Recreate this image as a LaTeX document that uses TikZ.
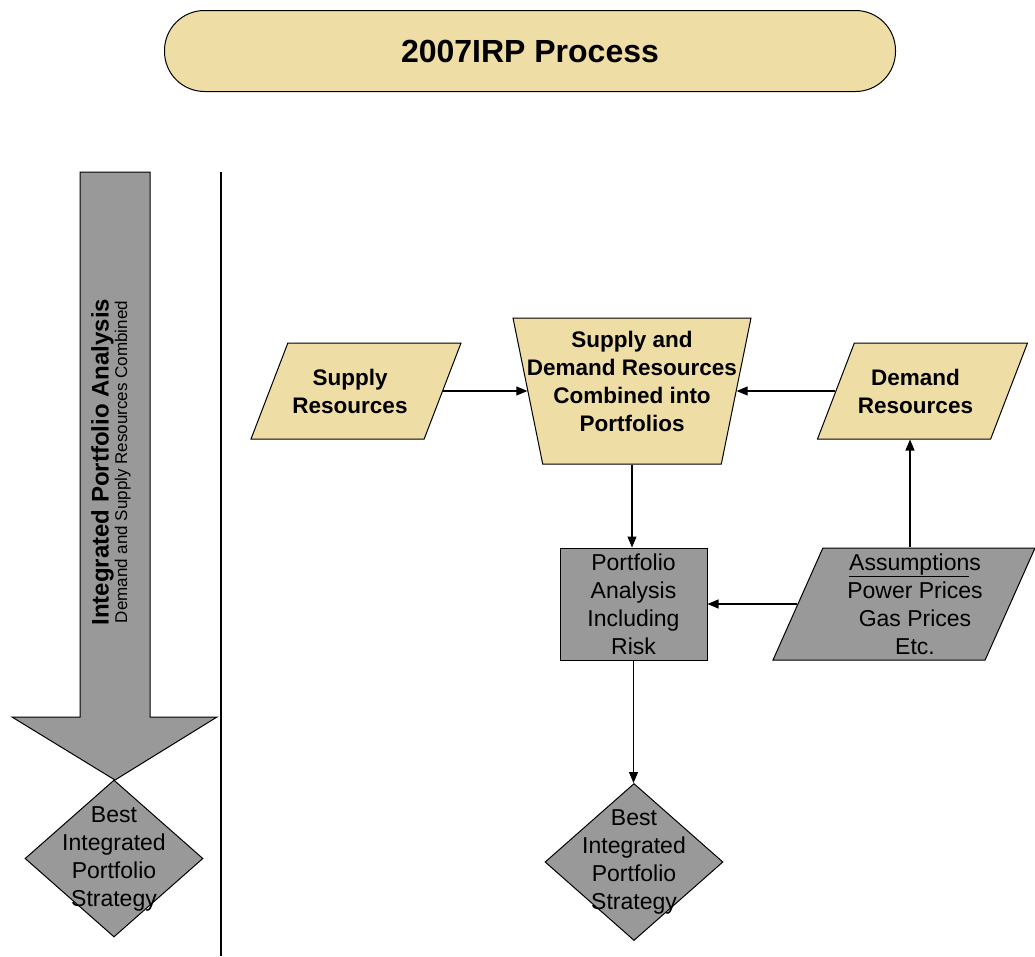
\documentclass[tikz,border=0pt]{standalone}
\usepackage{fontspec}
\setmainfont{Liberation Sans}
\usetikzlibrary{arrows.meta,shapes.geometric,positioning}
\definecolor{tanfill}{RGB}{239,221,166}
\definecolor{boxgray}{RGB}{153,153,153}
\tikzset{
    %Define standard arrow tip
    >={Triangle[length=11pt,width=9pt]},
    %Define style for boxes
    titlebox/.style={
           rectangle,
           rounded corners=40pt,
           draw=black, line width=1pt,
           fill=tanfill,
           minimum width=731pt,
           minimum height=81pt,
           font=\fontsize{32}{38}\selectfont\bfseries,
           },
    inputbox/.style={
           trapezium,
           trapezium left angle=69,
           trapezium right angle=111,
           trapezium stretches body,
           draw=black, line width=1pt,
           fill=tanfill,
           inner sep=0pt,
           text height=96pt,
           text depth=0pt,
           minimum width=210pt,
           },
    mergebox/.style={
           trapezium,
           trapezium left angle=101.5,
           trapezium right angle=101.5,
           trapezium stretches body,
           draw=black, line width=1pt,
           fill=tanfill,
           inner sep=0pt,
           text height=146pt,
           text depth=0pt,
           minimum width=238pt,
           },
    assumebox/.style={
           trapezium,
           trapezium left angle=66,
           trapezium right angle=114,
           trapezium stretches body,
           draw=black, line width=1pt,
           fill=boxgray,
           inner sep=0pt,
           text height=112pt,
           text depth=0pt,
           minimum width=262pt,
           },
    stepbox/.style={
           rectangle,
           draw=black, line width=1pt,
           fill=boxgray,
           minimum width=147pt,
           minimum height=112pt,
           align=center,
           font=\fontsize{23}{28}\selectfont,
           },
    bestbox/.style={
           diamond,
           draw=black, line width=1pt,
           fill=boxgray,
           inner sep=0pt,
           minimum width=178pt,
           minimum height=157pt,
           },
    boldtext/.style={align=center, font=\fontsize{22.5}{28}\selectfont\bfseries},
    plaintext/.style={align=center, font=\fontsize{23}{28}\selectfont},
    % Define arrow style
    conn/.style={
           ->,
           line width=1.1pt,
           },
    bigarrow/.style={draw=black, line width=1pt, fill=boxgray},
}
\begin{document}
\begin{tikzpicture}[x=1pt,y=-1pt]
\useasboundingbox (0,0) rectangle (1035,956);
\node[titlebox] (ttl) at (530,51) {2007IRP Process};
% left column
\draw[bigarrow] (80,172) -- (150,172) -- (150,717) -- (217,717) -- (115,780) -- (12,717) -- (80,717) -- cycle;
\node[rotate=90, align=center] (ipa) at (111,462) {{\fontsize{24}{28}\selectfont\bfseries Integrated Portfolio Analysis}\\{\fontsize{17}{19}\selectfont Demand and Supply Resources Combined}};
\node[bestbox, label={[plaintext]center:Best\\Integrated\\Portfolio\\Strategy}] (best1) at (114,858.5) {};
\draw[line width=2pt] (221,172) -- (221,956);
% process
\node[inputbox, label={[boldtext, xshift=-6pt]center:Supply\\Resources}] (sup) at (356,391) {};
\node[mergebox, label={[boldtext, yshift=10pt]center:Supply and\\Demand Resources\\Combined into\\Portfolios}] (comb) at (632,391) {};
\node[inputbox, label={[boldtext, xshift=-7pt]center:Demand\\Resources}] (dem) at (922.5,391) {};
\node[stepbox] (port) at (633.5,604) {Portfolio\\Analysis\\Including\\Risk};
\node[assumebox, label={[plaintext, xshift=11pt]center:\underline{Assumption}s\\Power Prices\\Gas Prices\\Etc.}] (asm) at (904,604) {};
\node[bestbox, label={[plaintext]center:Best\\Integrated\\Portfolio\\Strategy}] (best2) at (634,862) {};
\coordinate (feed) at (910,0);
\draw[conn] (sup.right side) -- (comb.left side);
\draw[conn] (dem.left side) -- (comb.right side);
\draw[conn] (comb.south) -- (comb.south |- port.north);
\draw[conn] (asm.left side) -- (port.east);
\draw[conn] (feed |- asm.north) -- (feed |- dem.south);
\draw[conn] (port.south) -- (port.south |- best2.north);
\end{tikzpicture}
\end{document}
